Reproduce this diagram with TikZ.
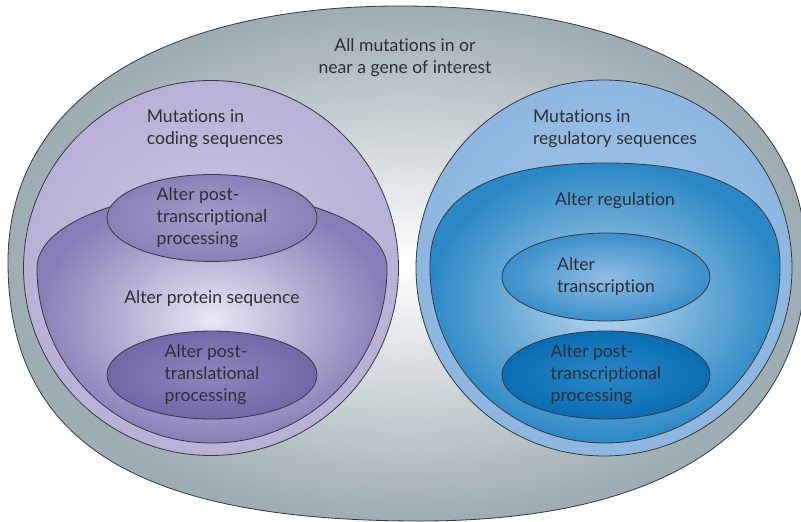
\documentclass[tikz,border=0pt]{standalone}
\usepackage{fontspec}
\setmainfont{Lato}[Ligatures={NoCommon}]
\usepackage{tikz}
\usetikzlibrary{shapes.geometric}

\definecolor{txtgray}{HTML}{2E2E35}
\definecolor{edgegray}{HTML}{3A3A40}
\definecolor{allout}{HTML}{9EACB3}
\definecolor{codin}{HTML}{CBC6E3}
\definecolor{codout}{HTML}{B9B1D7}
\definecolor{protin}{HTML}{E9E7F4}
\definecolor{protout}{HTML}{887DB8}
\definecolor{ptpin}{HTML}{A49CCB}
\definecolor{ptpout}{HTML}{8A80B8}
\definecolor{ptlin}{HTML}{8F86BE}
\definecolor{ptlout}{HTML}{7367A8}
\definecolor{regin}{HTML}{A9CAEB}
\definecolor{regout}{HTML}{8DB6E0}
\definecolor{altin}{HTML}{BED8EF}
\definecolor{altout}{HTML}{2A88C6}
\definecolor{trin}{HTML}{90BDE4}
\definecolor{trout}{HTML}{3A8FCB}
\definecolor{blptin}{HTML}{2A87C7}
\definecolor{blptout}{HTML}{0A6DB3}

\tikzset{
  txt/.style={font=\fontsize{15}{18.8}\selectfont, text=txtgray, align=left, inner sep=0},
  blob/.style={ellipse, draw=edgegray, line width=0.7pt, shading=radial, inner sep=0,
    font=\fontsize{15}{18.8}\selectfont, text=txtgray, align=left},
  rim/.style={draw=edgegray, line width=0.7pt, shading=radial}
}

\begin{document}
\begin{tikzpicture}[x=0.3mm, y=-0.3mm]
\useasboundingbox (0,0) rectangle (801,522);
\clip (0,0) rectangle (801,522);

% whole region (egg shaped)
\path[rim, inner color=white, outer color=allout]
  (8,262) .. controls (8,103) and (157,6) .. (400,6)
  .. controls (652,6) and (806,102) .. (806,258)
  .. controls (806,420) and (680,521) .. (420,521)
  .. controls (150,521) and (8,450) .. (8,262) -- cycle;
\node (alltext) [txt, align=center] at (405,58) {All mutations in or\\near a gene of interest};

% coding side
\node (coding) [blob, circle, minimum size=112.5mm, inner color=codin, outer color=codout]
  at (211,268) {};
\node (codtext) [txt] at (215,129) {Mutations in\\coding sequences};
\path[rim, inner color=protin, outer color=protout]
  (37,268) arc[start angle=180, end angle=360, x radius=175, y radius=75]
  arc[start angle=0, end angle=180, radius=175] -- cycle;
\node (protein) [txt] at (212,299) {Alter protein sequence};
\node (ptp) [blob, minimum width=63mm, minimum height=26.1mm, inner color=ptpin, outer color=ptpout]
  at (212,218) {Alter post-\\transcriptional\\processing};
\node (ptl) [blob, minimum width=63mm, minimum height=26.4mm, inner color=ptlin, outer color=ptlout]
  at (212,375) {Alter post-\\translational\\processing};

% regulatory side
\node (regul) [blob, circle, minimum size=112.8mm, inner color=regin, outer color=regout]
  at (604,268) {};
\node (regtext) [txt] at (615,129) {Mutations in\\regulatory sequences};
\path[rim, inner color=altin, outer color=altout]
  (430,268) .. controls (428,192) and (500,163) .. (605,163)
  .. controls (710,163) and (782,192) .. (780,268)
  arc[start angle=0, end angle=180, radius=175] -- cycle;
\node (alterreg) [txt] at (615,201) {Alter regulation};
\node (trans) [blob, minimum width=62.4mm, minimum height=26.4mm, inner color=trin, outer color=trout]
  at (606,277) {Alter\\transcription};
\node (ptp2) [blob, minimum width=62.4mm, minimum height=26.4mm, inner color=blptin, outer color=blptout]
  at (606,375) {Alter post-\\transcriptional\\processing};
\end{tikzpicture}
\end{document}
